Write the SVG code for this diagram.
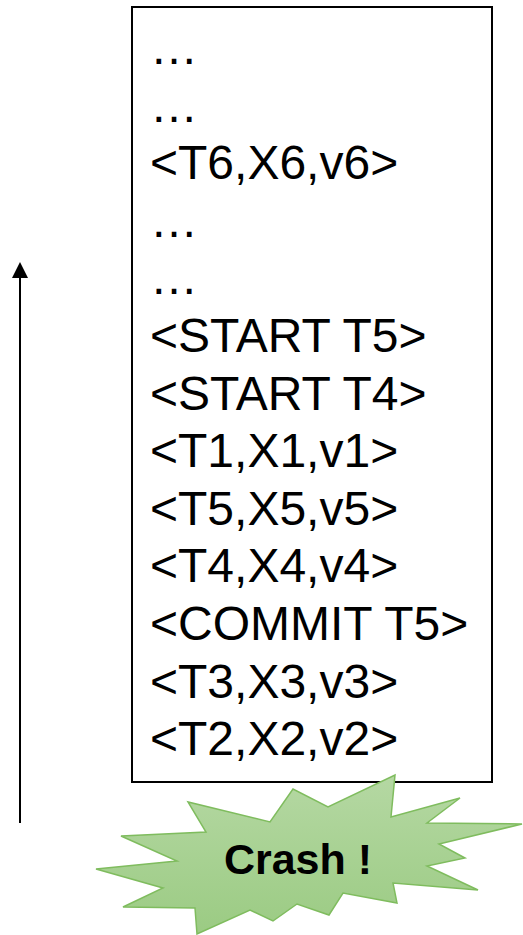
<svg xmlns="http://www.w3.org/2000/svg" width="523" height="935" viewBox="0 0 523 935">
<style>
.log{font-family:"Liberation Sans",Arial,sans-serif;font-size:48px;fill:#000}
.crash{font-family:"Liberation Sans",Arial,sans-serif;font-size:43px;font-weight:bold;fill:#000}
</style>
<defs>
<marker id="ah" markerWidth="16" markerHeight="16" refX="8" refY="2" orient="auto" markerUnits="userSpaceOnUse" viewBox="0 0 16 16">
<polygon points="0,0 16,8 0,16" fill="#000" transform="rotate(0)"/>
</marker>
<linearGradient id="g" x1="0" y1="0" x2="0" y2="1">
<stop offset="0" stop-color="#b5d8a3"/>
<stop offset="1" stop-color="#9bcb83"/>
</linearGradient>
</defs>
<g id="connectors">
<line x1="20" y1="823" x2="20" y2="276" stroke="#000" stroke-width="2"/>
<polygon points="20,262 28,278 12,278" fill="#000"/>
</g>
<g id="log">
<rect x="132" y="7" width="360" height="775" fill="#fff" stroke="#000" stroke-width="2"/>
<text class="log" x="150">
<tspan x="150" y="64">…</tspan>
<tspan x="150" y="121.6">…</tspan>
<tspan x="150" y="179.2">&lt;T6,X6,v6&gt;</tspan>
<tspan x="150" y="236.8">…</tspan>
<tspan x="150" y="294.4">…</tspan>
<tspan x="150" y="352">&lt;START T5&gt;</tspan>
<tspan x="150" y="409.6">&lt;START T4&gt;</tspan>
<tspan x="150" y="467.2">&lt;T1,X1,v1&gt;</tspan>
<tspan x="150" y="524.8">&lt;T5,X5,v5&gt;</tspan>
<tspan x="150" y="582.4">&lt;T4,X4,v4&gt;</tspan>
<tspan x="150" y="640">&lt;COMMIT T5&gt;</tspan>
<tspan x="150" y="697.6">&lt;T3,X3,v3&gt;</tspan>
<tspan x="150" y="755.2">&lt;T2,X2,v2&gt;</tspan>
</text>
</g>
<g id="crash">
<polygon points="395,775 391,817 460,798 427,823 522,824 439,844 465,858 427,866 478,890 393,883 397,903 343,893 329,915 297,904 273,921 250,910 197,934 195,908 123,907 163,888 96,869 177,861 121,836 206,832 188,802 270,822 293,789 328,807" fill="url(#g)" stroke="#7fbc5e" stroke-width="1.5" stroke-linejoin="miter"/>
<text class="crash" x="298" y="874" text-anchor="middle">Crash !</text>
</g>
</svg>
